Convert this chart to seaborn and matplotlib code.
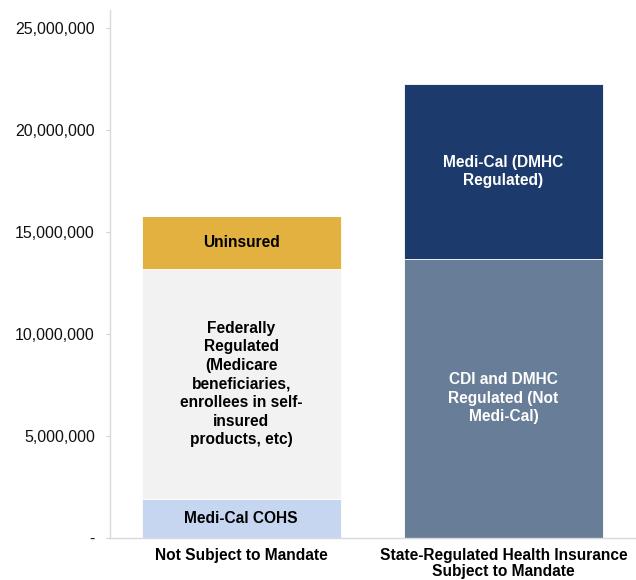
import numpy as np
import pandas as pd
import matplotlib
matplotlib.use("Agg")
import matplotlib.pyplot as plt
import seaborn as sns
from matplotlib.ticker import FuncFormatter

sns.set_style("white")
plt.rcParams["font.family"] = ["Liberation Sans", "DejaVu Sans"]

# --------------------------
# Data
# --------------------------
categories = ["Not Subject to Mandate", "State-Regulated Health Insurance\nSubject to Mandate"]

medi_cal_cohs = [1_890_000, 0]
federally_regulated = [11_290_000, 0]
uninsured = [2_580_000, 0]
cdi_dmhc = [0, 13_690_000]
medi_cal_dmhc = [0, 8_570_000]

segments = [
    ("Medi-Cal COHS", medi_cal_cohs, "#C6D6F0", "black"),
    ("Federally\nRegulated\n(Medicare\nbeneficiaries,\nenrollees in self-\ninsured\nproducts, etc)",
     federally_regulated, "#F2F2F2", "black"),
    ("Uninsured", uninsured, "#E3B13F", "black"),
    ("CDI and DMHC\nRegulated (Not\nMedi-Cal)", cdi_dmhc, "#687D97", "white"),
    ("Medi-Cal (DMHC\nRegulated)", medi_cal_dmhc, "#1D3A6C", "white"),
]

# --------------------------
# Plot
# --------------------------
fig = plt.figure(figsize=(6.36, 5.8), dpi=100)
ax = fig.add_axes([0.173, 0.073, 0.825, 0.91])

bottoms = np.zeros(len(categories))
for label, vals, color, txt_color in segments:
    vals = np.array(vals, dtype=float)
    sns.barplot(x=categories, y=vals, bottom=bottoms, color=color, saturation=1,
                width=0.76, edgecolor="white", linewidth=0.6, ax=ax)
    for i, v in enumerate(vals):
        if v > 0:
            ax.text(i, bottoms[i] + v / 2, label, ha="center", va="center",
                    fontsize=11.2, fontweight="bold", color=txt_color, linespacing=1.3)
    bottoms = bottoms + vals

ax.set_ylim(0, 25_900_000)
ax.set_xlim(-0.5, 1.5)
ax.set_yticks(np.arange(0, 25_000_001, 5_000_000))
ax.yaxis.set_major_formatter(FuncFormatter(lambda v, p: "-" if v == 0 else f"{int(v):,}"))
ax.tick_params(axis="y", labelsize=11.5, left=True, length=3, color="#D0D0D0",
               pad=8, labelcolor="#111111")
ax.tick_params(axis="x", labelsize=11.2, bottom=False, pad=4, labelcolor="black")
for t in ax.get_xticklabels():
    t.set_fontweight("bold")
    t.set_linespacing(1.05)
ax.set_xlabel("")
ax.set_ylabel("")

sns.despine(ax=ax, top=True, right=True)
for s in ["left", "bottom"]:
    ax.spines[s].set_color("#D9D9D9")
    ax.spines[s].set_linewidth(1)

fig.savefig("out.png", dpi=100)
